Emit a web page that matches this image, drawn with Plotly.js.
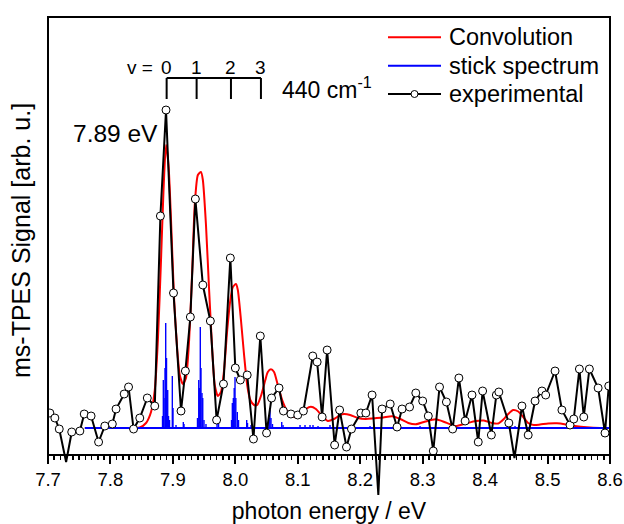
<!DOCTYPE html>
<html><head><meta charset="utf-8">
<script src="https://cdn.plot.ly/plotly-3.0.1.min.js"></script>
<style>html,body{margin:0;padding:0;background:#fff}</style>
</head><body><div id="chart" style="width:624px;height:524px"></div>
<script>
// ---------- DATA ----------
const expEnergy = [7.703, 7.711, 7.718, 7.729, 7.738, 7.751, 7.758, 7.769, 7.781, 7.791,
  7.803, 7.809, 7.822, 7.829, 7.837, 7.847, 7.859, 7.871, 7.880, 7.889,
  7.901, 7.913, 7.920, 7.928, 7.936, 7.948, 7.960, 7.970, 7.981, 7.992,
  8.000, 8.008, 8.019, 8.029, 8.040, 8.050, 8.058, 8.070, 8.077, 8.089,
  8.100, 8.109, 8.124, 8.131, 8.139, 8.147, 8.159, 8.167, 8.178, 8.186,
  8.201, 8.209, 8.219, 8.229, 8.235, 8.248, 8.259, 8.267, 8.279, 8.289,
  8.300, 8.309, 8.317, 8.327, 8.338, 8.348, 8.358, 8.368, 8.379, 8.389,
  8.396, 8.410, 8.418, 8.422, 8.438, 8.447, 8.459, 8.469, 8.480, 8.491,
  8.497, 8.512, 8.523, 8.536, 8.542, 8.551, 8.558, 8.567, 8.581, 8.592,
  8.598, 8.610];
const expSignal = [15, 10, -1, -34, -4, -3, 14, 12, -14, 2,
  4, 19, 34, 41, -1, 10, 30, 22, 212, 318,
  135, 17, 57, 111, 229, 143, 107, 8, 44, 170,
  60, 48, 53, -11, 92, -5, 30, 40, 17, 14,
  13, 17, 72, 66, 11, 78, -17, 18, -19, -1,
  15, 15, 33, -67, 19, 24, 1, 19, 21, 35,
  27, 12, -23, 41, 26, -1, 50, 7, 33, -14,
  37, -7, 33, 36, 5, -30, 22, -7, 27, 37,
  33, 57, 18, 3, 9, 59, 11, 59, 40, -5,
  42, 10];

const convEnergy = [7.759, 7.831, 7.847, 7.857, 7.865, 7.871, 7.876, 7.881, 7.885, 7.889,
  7.893, 7.897, 7.902, 7.907, 7.911, 7.916, 7.921, 7.926, 7.931, 7.935,
  7.940, 7.945, 7.948, 7.953, 7.958, 7.963, 7.967, 7.972, 7.977, 7.982,
  7.987, 7.992, 7.996, 8.001, 8.004, 8.009, 8.014, 8.019, 8.024, 8.030,
  8.035, 8.041, 8.048, 8.052, 8.057, 8.062, 8.068, 8.075, 8.083, 8.091,
  8.099, 8.107, 8.113, 8.121, 8.129, 8.139, 8.148, 8.158, 8.168, 8.174,
  8.184, 8.196, 8.209, 8.222, 8.237, 8.251, 8.264, 8.277, 8.289, 8.302,
  8.321, 8.337, 8.353, 8.369, 8.385, 8.398, 8.411, 8.421, 8.430, 8.437,
  8.445, 8.453, 8.461, 8.469, 8.478, 8.488, 8.501, 8.515, 8.530, 8.544,
  8.563, 8.584, 8.600];
const convSignal = [0, 0, 0.5, 5, 16, 38, 88, 168, 238, 283,
  263, 208, 128, 78, 53, 44, 50, 88, 158, 223,
  253, 256, 248, 203, 138, 78, 43, 32, 36, 58,
  98, 128, 141, 144, 138, 108, 73, 43, 28, 23,
  23, 32, 48, 56, 58.7, 56, 43, 28, 17, 12,
  11, 15, 19, 21.3, 19, 12, 7, 9, 13, 14,
  13, 10, 9, 9.7, 10.5, 11.7, 9, 5, 3.7, 6,
  8.7, 5.5, 2, 4.5, 7, 7.5, 5, 4.5, 9, 14,
  18, 16.5, 11, 5, 3, 3.5, 4.5, 4.7, 3.5, 2,
  0.7, 0, 0];

const stickEnergy = [7.8834, 7.8847, 7.8858, 7.8874, 7.8885, 7.8898, 7.8917, 7.8930, 7.8946, 7.8991,
  7.9002, 7.9050, 7.9167, 7.9178, 7.9394, 7.9414, 7.9426, 7.9439, 7.9450, 7.9466,
  7.9478, 7.9498, 7.9530, 7.9707, 7.9731, 7.9939, 7.9952, 7.9968, 7.9982, 7.9995,
  8.0008, 8.0032, 8.0051, 8.0182, 8.0195, 8.0251, 8.0523, 8.0543, 8.0555, 8.0571,
  8.0595, 8.0743, 8.0764, 8.1036, 8.1116, 8.1196, 8.1244, 8.1324, 8.1516, 8.2157,
  8.2958, 8.3438, 8.4479];
const stickHeight = [12, 48, 30, 60, 105, 70, 38, 12, 8, 52,
  20, 3, 6, 4, 10, 48, 40, 101, 60, 35,
  30, 8, 4, 4, 5, 8, 25, 30, 40, 51,
  30, 16, 8, 8, 5, 3, 5, 10, 18, 10,
  4, 6, 3, 3, 3, 3, 3, 2, 3, 2,
  2, 2, 2];
const stickRange = [7.759, 8.6];

const progressionEnergy = [7.890, 7.938, 7.993, 8.041];
const progressionLabels = ['0', '1', '2', '3'];
const seriesNames = ['Convolution', 'stick spectrum', 'experimental'];
const seriesColors = ['#ff0000', '#0000ff', '#000000'];
const yTitle = 'ms-TPES Signal [arb. u.]';
const xTitle = 'photon energy / eV';

// ---------- LAYOUT GEOMETRY ----------
const W = 624, H = 524;
const margin = {l: 48, r: 14, t: 17, b: 24, pad: 0};
const xRange = [7.7, 8.6];
const yRange = [-72, 411];
const axisY = -27;                       // signal level where the energy axis sits
const axisPos = (axisY - yRange[0]) / (yRange[1] - yRange[0]);
const plotW = W - margin.l - margin.r, plotH = H - margin.t - margin.b;
const pxX = px => (px - margin.l) / plotW;
const pxY = py => (H - margin.b - py) / plotH;
const FONT = 'Liberation Sans, Arial, Helvetica, sans-serif';

// ---------- TRACES ----------
const stickX = [], stickY = [];
stickEnergy.forEach((e, i) => { stickX.push(e, e, null); stickY.push(0, stickHeight[i], null); });

const traces = [
  {x: convEnergy, y: convSignal, mode: 'lines', name: seriesNames[0],
   line: {color: seriesColors[0], width: 2, shape: 'spline', smoothing: 0.6}, showlegend: false, hoverinfo: 'skip'},
  {x: stickRange, y: [0, 0], mode: 'lines', name: seriesNames[1],
   line: {color: seriesColors[1], width: 2}, showlegend: false, hoverinfo: 'skip'},
  {x: stickX, y: stickY, mode: 'lines', name: seriesNames[1],
   line: {color: seriesColors[1], width: 1.4}, showlegend: false, hoverinfo: 'skip', connectgaps: false},
  {x: expEnergy, y: expSignal, mode: 'lines+markers', name: seriesNames[2],
   line: {color: seriesColors[2], width: 2},
   marker: {symbol: 'circle', color: '#ffffff', opacity: 1, size: expSignal.map(v => v < axisY ? 0 : 8),
            line: {color: '#000000', width: 1}},
   showlegend: false, hoverinfo: 'skip'}
];

// ---------- SHAPES & ANNOTATIONS ----------
const shapes = [
  {type: 'rect', xref: 'paper', yref: 'paper', x0: 0, x1: 1, y0: axisPos, y1: 1,
   line: {color: '#000', width: 2}, layer: 'above'}
];
const bracketTop = 350, bracketBottom = 329;
shapes.push({type: 'line', xref: 'x', yref: 'y', x0: progressionEnergy[0], x1: progressionEnergy[progressionEnergy.length - 1],
  y0: bracketTop, y1: bracketTop, line: {color: '#000', width: 2}});
progressionEnergy.forEach(e => shapes.push({type: 'line', xref: 'x', yref: 'y', x0: e, x1: e,
  y0: bracketTop, y1: bracketBottom, line: {color: '#000', width: 2}}));

const annotations = [];
progressionEnergy.forEach((e, i) => annotations.push({xref: 'x', yref: 'y', x: e, y: 361, text: progressionLabels[i],
  showarrow: false, xanchor: 'center', yanchor: 'middle', font: {size: 19, family: FONT, color: '#000'}}));
annotations.push({xref: 'x', yref: 'y', x: 7.8714, y: 361, text: 'v =', showarrow: false,
  xanchor: 'right', yanchor: 'middle', font: {size: 19, family: FONT, color: '#000'}});
annotations.push({xref: 'x', yref: 'y', x: 8.0716, y: 340, text: '440 cm<sup>-1</sup>', showarrow: false,
  xanchor: 'left', yanchor: 'middle', font: {size: 23, family: FONT, color: '#000'}});
annotations.push({xref: 'x', yref: 'y', x: 7.879, y: 295, text: '7.89 eV', showarrow: false,
  xanchor: 'right', yanchor: 'middle', font: {size: 24.5, family: FONT, color: '#000'}});
// y-axis title, placed like the original (slightly above the plot-area centre)
annotations.push({xref: 'paper', yref: 'paper', x: pxX(21), y: pxY(241), text: yTitle, textangle: -90,
  showarrow: false, xanchor: 'center', yanchor: 'middle', font: {size: 25, family: FONT, color: '#000'}});

// custom legend (long line samples like the original)
const legRows = [37.3, 65.7, 94];
const legX0 = 388, legX1 = 441, legText = 447;
seriesNames.forEach((n, i) => {
  shapes.push({type: 'line', xref: 'paper', yref: 'paper', x0: pxX(legX0), x1: pxX(legX1),
    y0: pxY(legRows[i]), y1: pxY(legRows[i]), line: {color: seriesColors[i], width: 2}});
  annotations.push({xref: 'paper', yref: 'paper', x: pxX(legText), y: pxY(legRows[i]), text: n,
    showarrow: false, xanchor: 'left', yanchor: 'middle', font: {size: 23.5, family: FONT, color: '#000'}});
});
shapes.push({type: 'circle', xref: 'paper', yref: 'paper', xsizemode: 'pixel', ysizemode: 'pixel',
  xanchor: pxX((legX0 + legX1) / 2), yanchor: pxY(legRows[2]), x0: -3.5, x1: 3.5, y0: -3.5, y1: 3.5,
  fillcolor: '#fff', line: {color: '#000', width: 1}, layer: 'above'});

const layout = {
  width: W, height: H, margin: margin,
  paper_bgcolor: '#fff', plot_bgcolor: '#fff',
  font: {family: FONT, color: '#000'},
  showlegend: false,
  xaxis: {
    range: xRange, anchor: 'free', position: axisPos,
    showline: true, linecolor: '#000', linewidth: 2,
    ticks: 'outside', ticklen: 8, tickwidth: 2, tickcolor: '#000',
    tick0: 7.7, dtick: 0.1, tickformat: '.1f',
    tickfont: {size: 18.5, family: FONT, color: '#000'},
    minor: {dtick: 0.01, ticks: 'outside', ticklen: 4, tickwidth: 1.5, tickcolor: '#000', showgrid: false},
    showgrid: false, zeroline: false,
    title: {text: xTitle, font: {size: 23, family: FONT, color: '#000'}, standoff: 13}
  },
  yaxis: {
    range: yRange, showline: false, showticklabels: false, ticks: '',
    showgrid: false, zeroline: false
  },
  shapes: shapes,
  annotations: annotations
};

Plotly.newPlot('chart', traces, layout, {staticPlot: true, displayModeBar: false});
</script>
</body></html>
